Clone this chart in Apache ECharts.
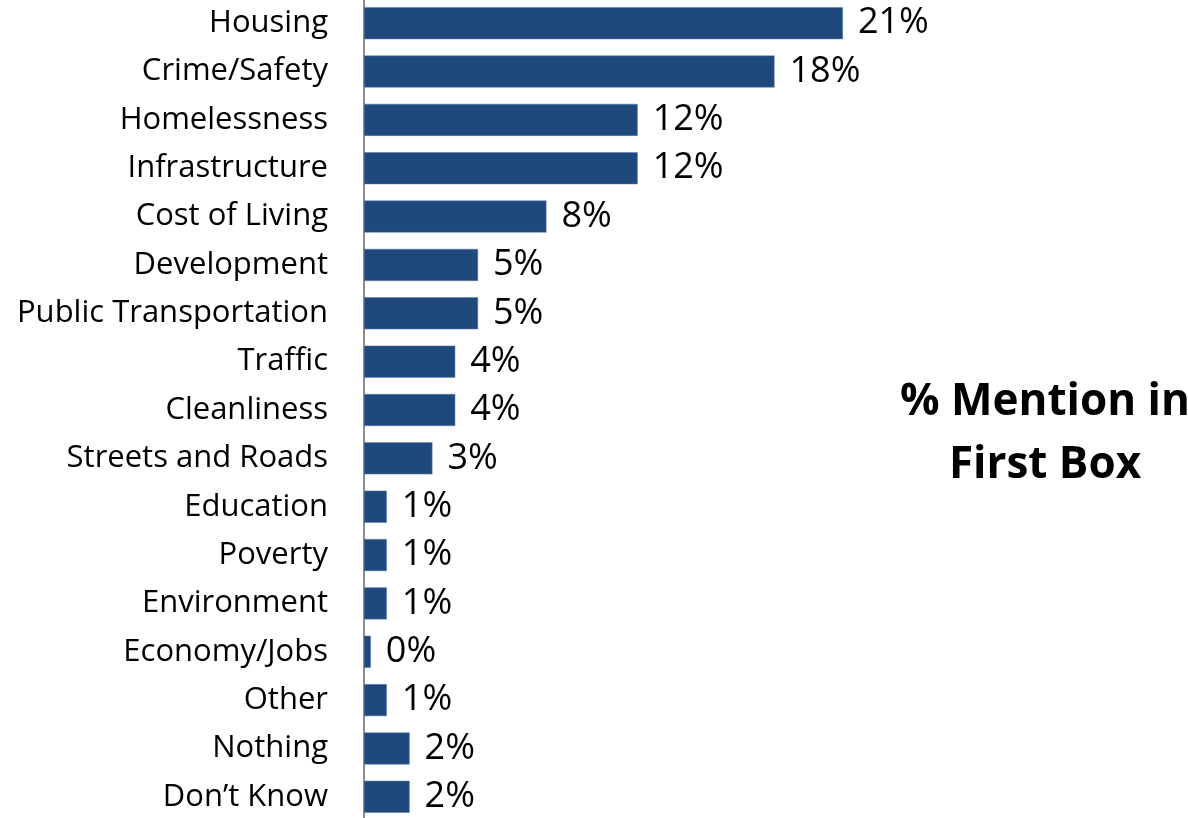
<!DOCTYPE html>
<html>
<head>
<meta charset="utf-8">
<script src="https://cdn.jsdelivr.net/npm/echarts@6/dist/echarts.min.js"></script>
<style>
  html, body { margin: 0; padding: 0; background: #fff; }
  #main { width: 1188px; height: 818px; }
</style>
</head>
<body>
<div id="main"></div>
<script>
// categories, top to bottom
var categories = ['Housing', 'Crime/Safety', 'Homelessness', 'Infrastructure', 'Cost of Living',
    'Development', 'Public Transportation', 'Traffic', 'Cleanliness', 'Streets and Roads',
    'Education', 'Poverty', 'Environment', 'Economy/Jobs', 'Other', 'Nothing', 'Don\u2019t Know'];
// % mention in first box
var values = [21, 18, 12, 12, 8, 5, 5, 4, 4, 3, 1, 1, 1, 0.3, 1, 2, 2];
var titleLines = ['% Mention in', 'First Box'];

var font = 'Open Sans';
var chart = echarts.init(document.getElementById('main'));

var option = {
    backgroundColor: '#ffffff',
    animation: false,
    title: {
        text: titleLines.join('\n'),
        left: 1040,
        top: 366,
        textAlign: 'center',
        textStyle: {
            fontFamily: font,
            fontSize: 44,
            fontWeight: 'bold',
            color: '#000',
            lineHeight: 63,
            align: 'center'
        }
    },
    grid: {
        left: 364,
        right: 3,
        top: -1,
        height: 822,
        outerBoundsMode: 'none'
    },
    xAxis: {
        type: 'value',
        min: 0,
        max: 36,
        show: false
    },
    yAxis: {
        type: 'category',
        inverse: true,
        data: categories,
        axisTick: { show: false },
        axisLine: {
            show: true,
            lineStyle: { color: '#8c8c8c', width: 2 }
        },
        axisLabel: {
            margin: 36,
            fontFamily: font,
            fontSize: 31,
            color: '#000'
        }
    },
    series: [{
        type: 'bar',
        data: values,
        barWidth: 32,
        itemStyle: {
            color: '#1f497d',
            borderColor: '#5a7aa5',
            borderWidth: 0.5
        },
        label: {
            show: true,
            position: 'right',
            distance: 15,
            fontFamily: font,
            fontSize: 36,
            color: '#000',
            formatter: function (p) {
                return Math.round(p.value) + '%';
            }
        }
    }]
};

chart.setOption(option);
</script>
</body>
</html>
